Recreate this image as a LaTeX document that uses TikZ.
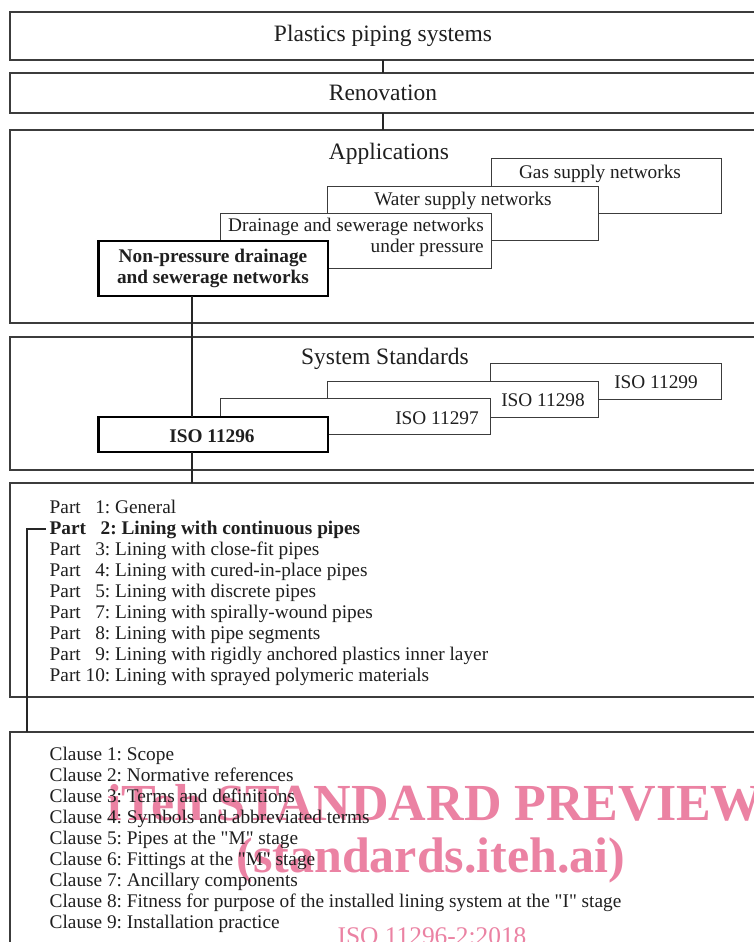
\documentclass[tikz,border=0pt]{standalone}
\usepackage{fontspec}
\setmainfont{Liberation Serif}
\usepackage{xcolor}
\usepackage{tikz}
\usetikzlibrary{positioning,calc}
\frenchspacing

\definecolor{edge}{RGB}{60,60,60}
\definecolor{wmpink}{RGB}{235,130,163}

\tikzset{
  outerbox/.style={draw=edge, line width=1.5pt, fill=white, inner sep=0pt, outer sep=0pt, anchor=north west, minimum width=746pt},
  stepbox/.style={draw=edge, line width=1pt, fill=white, inner sep=0pt, outer sep=0pt, anchor=north west},
  keybox/.style={draw=black, line width=2.2pt, fill=white, inner sep=0pt, outer sep=0pt, anchor=north west},
  conn/.style={draw=black!85, line width=1.5pt},
  ttl/.style={inner sep=0pt, text=black!88, font=\fontsize{23.5}{26}\selectfont},
  txt/.style={inner sep=0pt, text=black!88, font=\fontsize{19.3}{21}\selectfont},
  wmark/.style={inner sep=0pt, text=wmpink},
}

\begin{document}
\begin{tikzpicture}[x=1pt, y=-1pt]
  \useasboundingbox (0,0) rectangle (754,942);

  % top levels
  \node[outerbox, minimum height=48pt] (plastics) at (10,12) {};
  \node[ttl] (plasticstext) at (plastics.center) {Plastics piping systems};
  \node[outerbox, minimum height=40pt] (renovation) at (10,73) {};
  \node[ttl] (renovationtext) at (renovation.center) {Renovation};

  % applications
  \node[outerbox, minimum height=193pt] (apps) at (10,130) {};
  \node[ttl, anchor=base] (appstitle) at (389,159) {Applications};
  \node[stepbox, minimum width=230pt, minimum height=55pt] (gas) at (491,158) {};
  \node[txt, anchor=base] (gastext) at (600,178) {Gas supply networks};
  \node[stepbox, minimum width=271pt, minimum height=54pt] (water) at (327,186) {};
  \node[txt, anchor=base] (watertext) at (463,205) {Water supply networks};
  \node[stepbox, minimum width=271pt, minimum height=55pt] (drain) at (220,213) {};
  \node[txt, anchor=base east, align=right] (draintext) at (484,252) {Drainage and sewerage networks\\under pressure};
  \node[keybox, minimum width=229.5pt, minimum height=55pt] (np) at (98.5,241) {};
  \node[txt, anchor=base, align=center, font=\fontsize{19.3}{21}\selectfont\bfseries] (nptext) at (213,283) {Non-pressure drainage\\and sewerage networks};

  % system standards
  \node[outerbox, minimum height=133pt] (sysstd) at (10,337) {};
  \node[ttl, anchor=base] (sysstdtitle) at (385,364) {System Standards};
  \node[stepbox, minimum width=231pt, minimum height=36pt] (iso99) at (490,363) {};
  \node[txt, anchor=base] (iso99text) at (656,388) {ISO 11299};
  \node[stepbox, minimum width=271pt, minimum height=36pt] (iso98) at (327,381) {};
  \node[txt, anchor=base] (iso98text) at (543,406) {ISO 11298};
  \node[stepbox, minimum width=270pt, minimum height=36pt] (iso97) at (220,398) {};
  \node[txt, anchor=base] (iso97text) at (437,424) {ISO 11297};
  \node[keybox, minimum width=229.5pt, minimum height=35pt] (iso96) at (98.5,417) {};
  \node[txt, anchor=base, font=\fontsize{19.3}{21}\selectfont\bfseries] (iso96text) at (212,442) {ISO 11296};

  % parts
  \node[outerbox, minimum height=214pt] (parts) at (10,483) {};
  \node[txt, anchor=base west] (part1) at (49.5,513) {Part \phantom{1}1: General};
  \node[txt, anchor=base west, font=\fontsize{19.3}{21}\selectfont\bfseries] (part2) at (49.5,534) {Part \phantom{1}2: Lining with continuous pipes};
  \node[txt, anchor=base west] (part3) at (49.5,555) {Part \phantom{1}3: Lining with close-fit pipes};
  \node[txt, anchor=base west] (part4) at (49.5,576) {Part \phantom{1}4: Lining with cured-in-place pipes};
  \node[txt, anchor=base west] (part5) at (49.5,597) {Part \phantom{1}5: Lining with discrete pipes};
  \node[txt, anchor=base west] (part7) at (49.5,618) {Part \phantom{1}7: Lining with spirally-wound pipes};
  \node[txt, anchor=base west] (part8) at (49.5,639) {Part \phantom{1}8: Lining with pipe segments};
  \node[txt, anchor=base west] (part9) at (49.5,660) {Part \phantom{1}9: Lining with rigidly anchored plastics inner layer};
  \node[txt, anchor=base west] (part10) at (49.5,681) {Part 10: Lining with sprayed polymeric materials};

  % clauses
  \node[outerbox, minimum height=260pt] (clauses) at (10,732) {};
  \node[wmark, anchor=base west, font=\fontsize{52}{52}\selectfont\bfseries] (wmpreview) at (107,820) {iTeh STANDARD PREVIEW};
  \node[wmark, anchor=base, font=\fontsize{50}{50}\selectfont\bfseries] (wmsite) at (431,872) {(standards.iteh.ai)};
  \node[wmark, anchor=base, font=\fontsize{25.4}{26}\selectfont] (wmdoc) at (432,944) {ISO 11296-2:2018};
  \node[txt, anchor=base west] (clause1) at (49.5,760) {Clause 1: Scope};
  \node[txt, anchor=base west] (clause2) at (49.5,781) {Clause 2: Normative references};
  \node[txt, anchor=base west] (clause3) at (49.5,802) {Clause 3: Terms and definitions};
  \node[txt, anchor=base west] (clause4) at (49.5,823) {Clause 4: Symbols and abbreviated terms};
  \node[txt, anchor=base west] (clause5) at (49.5,844) {Clause 5: Pipes at the \textquotedbl M\textquotedbl{} stage};
  \node[txt, anchor=base west] (clause6) at (49.5,865) {Clause 6: Fittings at the \textquotedbl M\textquotedbl{} stage};
  \node[txt, anchor=base west] (clause7) at (49.5,886) {Clause 7: Ancillary components};
  \node[txt, anchor=base west] (clause8) at (49.5,907) {Clause 8: Fitness for purpose of the installed lining system at the \textquotedbl I\textquotedbl{} stage};
  \node[txt, anchor=base west] (clause9) at (49.5,928) {Clause 9: Installation practice};

  % connectors
  \coordinate (spine) at (192,0);
  \coordinate (bracket) at (27,0);
  \draw[conn] (plastics.south) -- (renovation.north);
  \draw[conn] (renovation.south) -- (apps.north);
  \draw[conn] (np.south -| spine) -- (iso96.north -| spine);
  \draw[conn] (iso96.south -| spine) -- (parts.north -| spine);
  \draw[conn] ($(part2.base west)+(-4,-5)$) -| (clauses.north -| bracket);
\end{tikzpicture}
\end{document}
